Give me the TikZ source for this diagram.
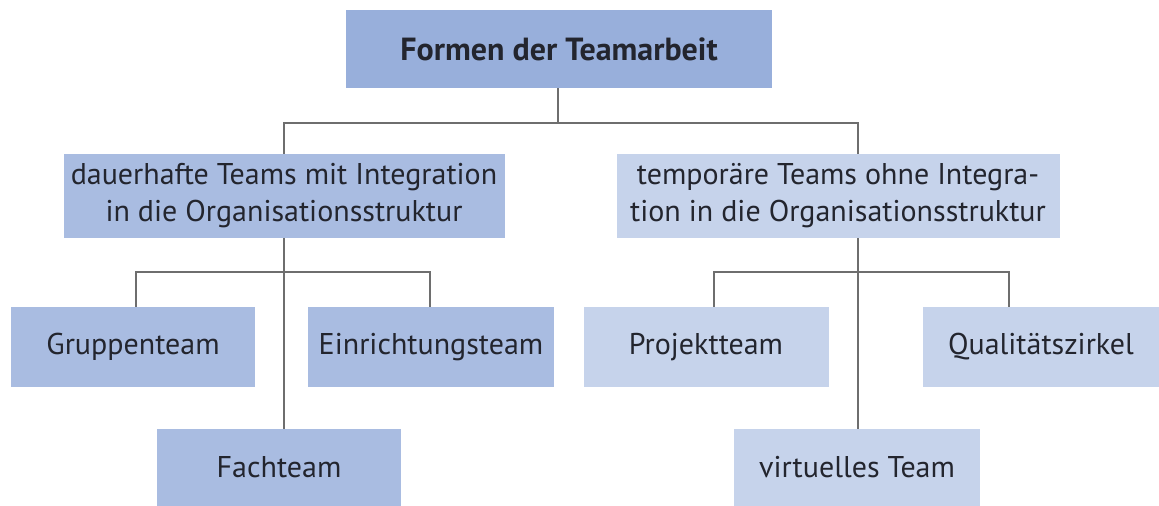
\documentclass[tikz,border=0pt]{standalone}
\usepackage{fontspec}
\setmainfont{PT Sans}
\usepackage{tikz}
\usetikzlibrary{calc}

\definecolor{boxtop}{HTML}{98AFDB}
\definecolor{boxdark}{HTML}{A9BCE1}
\definecolor{boxlight}{HTML}{C6D3EB}
\definecolor{linegray}{HTML}{6E6E6E}
\definecolor{txt}{HTML}{23252E}

\tikzset{
    box/.style={inner sep=0pt, text=txt, font=\fontsize{15}{18.5}\selectfont, align=center},
    link/.style={draw=linegray, line width=0.8pt}
}

\begin{document}
\begin{tikzpicture}[x=0.5pt,y=-0.5pt]
    \useasboundingbox[fill=white] (0,0) rectangle (1159,506);

    % top level
    \node[box, fill=boxtop, minimum width=213pt, minimum height=39pt,
          font=\fontsize{16}{19}\selectfont\bfseries] (formen) at (559,49) {Formen der Teamarbeit};

    % second level
    \node[box, fill=boxdark, minimum width=220.5pt, minimum height=42pt] (dauer) at (284,196)
        {dauerhafte Teams mit Integration\\in die Organisationsstruktur};
    \node[box, fill=boxlight, minimum width=221.5pt, minimum height=42pt] (temp) at (838,196)
        {tempor\"are Teams ohne Integra-\\tion in die Organisationsstruktur};

    % third level, left
    \node[box, fill=boxdark, minimum width=122pt, minimum height=40pt] (gruppe) at (133,347) {Gruppenteam};
    \node[box, fill=boxdark, minimum width=123pt, minimum height=40pt] (einr) at (431,347) {Einrichtungsteam};
    \node[box, fill=boxdark, minimum width=122pt, minimum height=38.5pt] (fach) at (279,467.5) {Fachteam};

    % third level, right
    \node[box, fill=boxlight, minimum width=122.5pt, minimum height=40pt] (projekt) at (706,347) {Projektteam};
    \node[box, fill=boxlight, minimum width=118pt, minimum height=40pt] (quali) at (1041,347) {Qualit\"atszirkel};
    \node[box, fill=boxlight, minimum width=123pt, minimum height=38.5pt] (virt) at (857,467.5) {virtuelles Team};

    % connectors
    \coordinate (busa) at (284,123);
    \coordinate (busb) at (858,123);
    \draw[link] (formen.south -| 558,0) -- (558,123);
    \draw[link] (dauer.north) -- (busa) -- (busb) -- (busb |- temp.north);

    \draw[link] (dauer.south) -- (dauer.south |- fach.north);
    \coordinate (busc) at (136,272);
    \coordinate (busd) at (430,272);
    \draw[link] (busc |- gruppe.north) -- (busc) -- (busd) -- (busd |- einr.north);

    \draw[link] (temp.south -| busb) -- (busb |- virt.north);
    \coordinate (buse) at (714,272);
    \coordinate (busf) at (1009,272);
    \draw[link] (buse |- projekt.north) -- (buse) -- (busf) -- (busf |- quali.north);
\end{tikzpicture}
\end{document}
